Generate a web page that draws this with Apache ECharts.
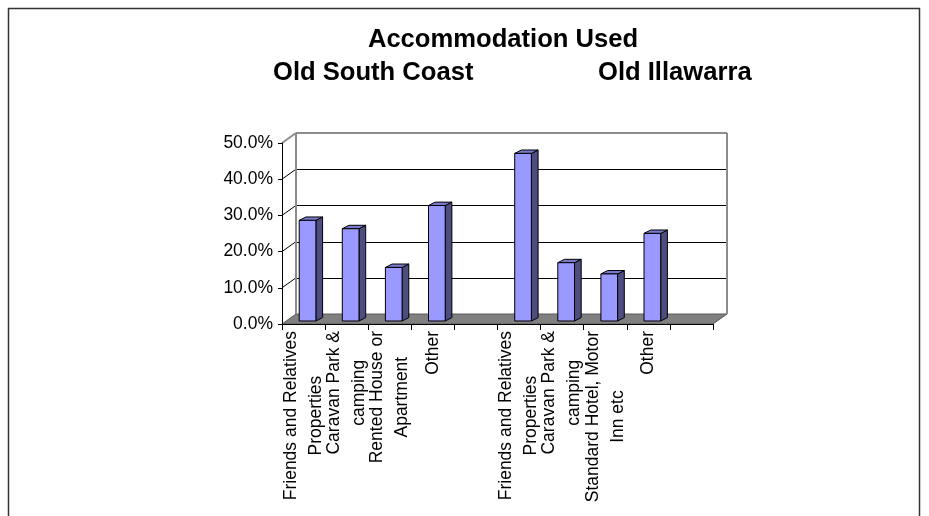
<!DOCTYPE html>
<html>
<head>
<meta charset="utf-8">
<script src="https://cdn.jsdelivr.net/npm/echarts@6/dist/echarts.min.js"></script>
<style>
  html, body { margin: 0; padding: 0; background: #fff; }
  #chart { width: 929px; height: 516px; }
</style>
</head>
<body>
<div id="chart"></div>
<script>
// Category slots: two regions of four accommodation types, each followed by an empty slot
const categories = [
  'Friends and Relatives\nProperties', 'Caravan Park &\ncamping', 'Rented House or\nApartment', 'Other', '',
  'Friends and Relatives\nProperties', 'Caravan Park &\ncamping', 'Standard Hotel, Motor\nInn etc', 'Other', ''
];
// Share of visitors (%) per slot
const shares = [27.8, 25.5, 14.8, 31.9, null, 46.3, 16.1, 13.0, 24.2, null];
// Value-axis ticks (%)
const yTicks = [0, 10, 20, 30, 40, 50];
const titleText = 'Accommodation Used';
const regionNames = ['Old South Coast', 'Old Illawarra'];

// 3D look: offsets of the back wall and of the column bodies
const WALL_DX = 14, WALL_DY = -10;
const BAR_FRONT_DX = 4, BAR_FRONT_DY = -3;
const BAR_DEPTH_DX = 6.7, BAR_DEPTH_DY = -3.4;
const BAR_WIDTH_RATIO = 0.387;
const FONT = 'Liberation Sans, Arial, sans-serif';
const TITLE_SIZE = 25.6;
const LABEL_SIZE = 17.5;

const crisp = v => Math.round(v) + 0.5;

function plotExtent(api, v) {
  const bw = api.size([1, 0])[0];
  const first = api.coord([0, v]);
  const last = api.coord([categories.length - 1, v]);
  return { x0: first[0] - bw / 2, x1: last[0] + bw / 2, y: first[1] };
}

// Walls, floor and their gridlines
function renderWalls(params, api) {
  const v = api.value(1);
  const e = plotExtent(api, v);
  const yMin = yTicks[0], yMax = yTicks[yTicks.length - 1];
  const children = [];
  if (v === yMin) {
    children.push({
      type: 'polygon',
      shape: { points: [[e.x0, e.y], [e.x1, e.y], [e.x1 + WALL_DX, e.y + WALL_DY], [e.x0 + WALL_DX, e.y + WALL_DY]] },
      style: { fill: '#808080', stroke: '#5a5a5a', lineWidth: 1 }
    });
  } else if (v === yMax) {
    const base = plotExtent(api, yMin);
    const gray = { stroke: '#8c8c8c', lineWidth: 2, fill: null };
    children.push(
      { type: 'line', shape: { x1: e.x0 + WALL_DX, y1: e.y + WALL_DY, x2: e.x1 + WALL_DX, y2: e.y + WALL_DY }, style: gray },
      { type: 'line', shape: { x1: e.x0 + WALL_DX, y1: e.y + WALL_DY, x2: e.x0 + WALL_DX, y2: base.y + WALL_DY }, style: gray },
      { type: 'line', shape: { x1: e.x1 + WALL_DX, y1: e.y + WALL_DY, x2: e.x1 + WALL_DX, y2: base.y + WALL_DY }, style: gray },
      { type: 'line', shape: { x1: e.x0, y1: e.y, x2: e.x0 + WALL_DX, y2: e.y + WALL_DY }, style: gray }
    );
  } else {
    const yb = crisp(e.y + WALL_DY);
    children.push(
      { type: 'line', shape: { x1: e.x0 + WALL_DX, y1: yb, x2: e.x1 + WALL_DX, y2: yb }, style: { stroke: '#000', lineWidth: 1 } },
      { type: 'line', shape: { x1: e.x0, y1: e.y, x2: e.x0 + WALL_DX, y2: e.y + WALL_DY }, style: { stroke: '#000', lineWidth: 1 } }
    );
  }
  return { type: 'group', children };
}

// Columns drawn as front, side and top faces
function renderColumn(params, api) {
  const i = api.value(0), v = api.value(1);
  if (v == null || isNaN(v)) return;
  const top = api.coord([i, v]);
  const base = api.coord([i, 0]);
  const w = api.size([1, 0])[0] * BAR_WIDTH_RATIO;
  const xl = top[0] - w / 2 + BAR_FRONT_DX, xr = xl + w;
  const yt = top[1] + BAR_FRONT_DY, yb = base[1] + BAR_FRONT_DY;
  const edge = { stroke: '#000', lineWidth: 1, lineJoin: 'miter' };
  return {
    type: 'group',
    children: [
      { type: 'polygon', shape: { points: [[xr, yt], [xr + BAR_DEPTH_DX, yt + BAR_DEPTH_DY], [xr + BAR_DEPTH_DX, yb + BAR_DEPTH_DY], [xr, yb]] },
        style: Object.assign({ fill: '#4d4d80' }, edge) },
      { type: 'polygon', shape: { points: [[xl, yt], [xl + BAR_DEPTH_DX, yt + BAR_DEPTH_DY], [xr + BAR_DEPTH_DX, yt + BAR_DEPTH_DY], [xr, yt]] },
        style: Object.assign({ fill: '#7a7acc' }, edge) },
      { type: 'rect', shape: { x: xl, y: yt, width: w, height: yb - yt },
        style: Object.assign({ fill: '#9999ff' }, edge) }
    ]
  };
}

const chart = echarts.init(document.getElementById('chart'), null, { renderer: 'canvas' });

const titleStyle = { fontFamily: FONT, fontSize: TITLE_SIZE, fontWeight: 'bold', color: '#000' };

chart.setOption({
  animation: false,
  backgroundColor: '#fff',
  textStyle: { fontFamily: FONT },
  title: [
    { text: titleText, left: 503, top: 27, textAlign: 'center', padding: 0, textStyle: titleStyle },
    { text: regionNames[0], left: 273, top: 60, padding: 0, textStyle: titleStyle },
    { text: regionNames[1], left: 598, top: 60, padding: 0, textStyle: titleStyle }
  ],
  graphic: [
    { type: 'rect', silent: true, shape: { x: 8.5, y: 8.5, width: 911, height: 530 },
      style: { fill: null, stroke: '#333', lineWidth: 1.5 } }
  ],
  grid: { left: 282, top: 143, width: 431, height: 181, containLabel: false },
  xAxis: {
    type: 'category',
    data: categories,
    z: 10,
    axisLine: { show: true, lineStyle: { color: '#000', width: 1 } },
    axisTick: { show: true, interval: 0, length: 6, lineStyle: { color: '#000' } },
    axisLabel: {
      interval: 0,
      rotate: 90,
      margin: 7,
      color: '#000',
      fontFamily: FONT,
      fontSize: LABEL_SIZE,
      formatter: value => value ? value.split('\n').map(s => '{c|' + s + '}').join('\n') : '',
      rich: { c: { align: 'center', fontFamily: FONT, fontSize: LABEL_SIZE, lineHeight: 25, color: '#000' } }
    },
    splitLine: { show: false }
  },
  yAxis: {
    type: 'value',
    min: yTicks[0],
    max: yTicks[yTicks.length - 1],
    interval: yTicks[1] - yTicks[0],
    z: 10,
    axisLine: { show: true, lineStyle: { color: '#000', width: 1 } },
    axisTick: { show: true, length: 4, lineStyle: { color: '#000' } },
    axisLabel: { margin: 9, color: '#000', fontFamily: FONT, fontSize: LABEL_SIZE, formatter: v => v.toFixed(1) + '%' },
    splitLine: { show: false }
  },
  series: [
    {
      type: 'custom',
      name: 'walls',
      renderItem: renderWalls,
      clip: false,
      silent: true,
      z: 1,
      encode: { x: 0, y: 1 },
      data: yTicks.map(v => [0, v])
    },
    {
      type: 'custom',
      name: 'columns',
      renderItem: renderColumn,
      clip: false,
      z: 3,
      encode: { x: 0, y: 1 },
      data: shares.map((v, i) => [i, v])
    }
  ]
});
</script>
</body>
</html>
